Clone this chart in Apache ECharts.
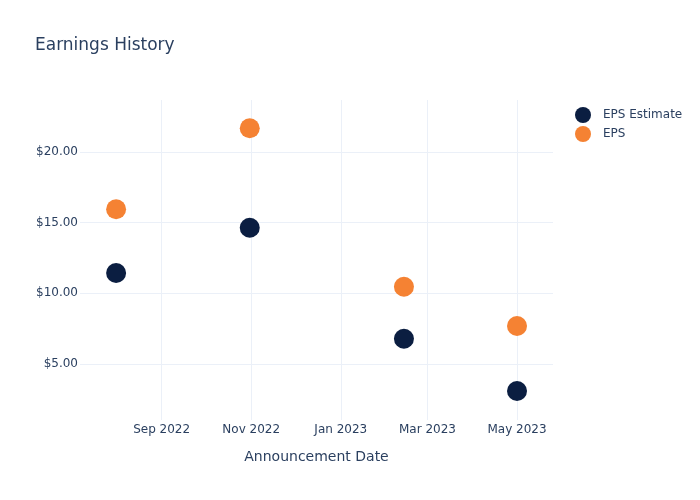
<!DOCTYPE html>
<html>
<head>
<meta charset="utf-8">
<script src="https://cdn.jsdelivr.net/npm/echarts@6/dist/echarts.min.js"></script>
<style>html,body{margin:0;padding:0;background:#fff}#c{width:700px;height:500px}</style>
</head>
<body>
<div id="c"></div>
<script>
const dates = ['2022-08-01', '2022-10-31', '2023-02-13', '2023-05-01'];
const epsEstimate = [11.44, 14.64, 6.79, 3.09];
const eps = [15.95, 21.68, 10.47, 7.69];
const xTicks = ['2022-09-01', '2022-11-01', '2023-01-01', '2023-03-01', '2023-05-01'];
const yTicks = [5, 10, 15, 20];
const monthNames = ['Jan','Feb','Mar','Apr','May','Jun','Jul','Aug','Sep','Oct','Nov','Dec'];

const toTs = s => { const [y,m,d] = s.split('-').map(Number); return Date.UTC(y, m-1, d); };
const xTickTs = xTicks.map(toTs);
const font = 'DejaVu Sans';
const txt = '#2a3f5f';
const grid = '#ebf0f8';

const chart = echarts.init(document.getElementById('c'));
chart.setOption({
  backgroundColor: '#fff',
  animation: false,
  title: { text: 'Earnings History', left: 30, top: 32, textStyle: { fontFamily: font, fontSize: 17, fontWeight: 'normal', color: txt } },
  legend: {
    orient: 'vertical', left: 570, top: 102, itemWidth: 16, itemHeight: 16, itemGap: 3, icon: 'circle',
    data: ['EPS Estimate', 'EPS'],
    textStyle: { fontFamily: font, fontSize: 12, color: txt, padding: [0, 0, 0, 7] }
  },
  grid: { left: 80, right: 147, top: 100, bottom: 80 },
  xAxis: {
    type: 'value',
    min: toTs('2022-07-07') + 10 * 3600e3,
    max: toTs('2023-05-25') + 12 * 3600e3,
    name: 'Announcement Date', nameLocation: 'middle', nameGap: 30,
    nameTextStyle: { fontFamily: font, fontSize: 14, color: txt },
    axisLine: { show: false },
    axisTick: { show: false, customValues: xTickTs },
    axisLabel: {
      customValues: xTickTs, margin: 4, fontFamily: font, fontSize: 12, color: txt,
      formatter: v => { const d = new Date(v); return monthNames[d.getUTCMonth()] + ' ' + d.getUTCFullYear(); }
    },
    splitLine: { show: true, lineStyle: { color: grid, width: 1 } }
  },
  yAxis: {
    type: 'value', min: 1.04, max: 23.68,
    axisLine: { show: false },
    axisTick: { show: false, customValues: yTicks },
    axisLabel: { customValues: yTicks, margin: 2, fontFamily: font, fontSize: 12, color: txt, formatter: v => '$' + v.toFixed(2) },
    splitLine: { show: true, lineStyle: { color: grid, width: 1 } }
  },
  series: [
    { name: 'EPS Estimate', type: 'scatter', symbolSize: 20, itemStyle: { color: '#0b1e41', opacity: 1 },
      data: dates.map((d, i) => [toTs(d), epsEstimate[i]]) },
    { name: 'EPS', type: 'scatter', symbolSize: 20, itemStyle: { color: '#f58233', opacity: 1 },
      data: dates.map((d, i) => [toTs(d), eps[i]]) }
  ]
});
</script>
</body>
</html>
